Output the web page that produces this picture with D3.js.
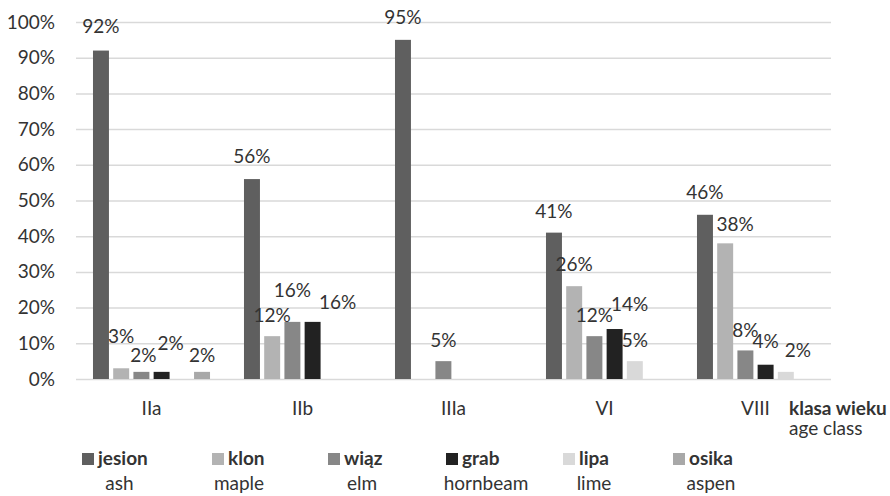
<!DOCTYPE html>
<html>
<head>
<meta charset="utf-8">
<script src="https://cdn.jsdelivr.net/npm/d3@7"></script>
<style>
  html, body { margin: 0; padding: 0; background: #fff; }
  svg text { font-family: Lato, "Open Sans", sans-serif; fill: #333; }
</style>
</head>
<body>
<svg id="chart" width="890" height="496"></svg>
<script>
// Age classes and tree species shares (%)
const ageClasses = ["IIa", "IIb", "IIIa", "VI", "VIII"];
const speciesPl = ["jesion", "klon", "wiąz", "grab", "lipa", "osika"];
const speciesEn = ["ash", "maple", "elm", "hornbeam", "lime", "aspen"];
const jesion = [92, 56, 95, 41, 46];
const klon   = [3, 12, null, 26, 38];
const wiaz   = [2, 16, 5, 12, 8];
const grab   = [2, 16, null, 14, 4];
const lipa   = [null, null, null, 5, 2];
const osika  = [2, null, null, null, null];
const yTicks = [0, 10, 20, 30, 40, 50, 60, 70, 80, 90, 100];

const seriesValues = [jesion, klon, wiaz, grab, lipa, osika];
const colors = ["#5f5f5f", "#b3b3b3", "#878787", "#222222", "#d9d9d9", "#a8a8a8"];

// small label shifts to keep neighbouring value labels apart
const labelShift = {
  "IIa|jesion": [0, -3], "IIa|klon": [0, -10], "IIa|wiąz": [2, 5],
  "IIa|grab": [9, -7], "IIa|osika": [0, 5],
  "IIb|jesion": [0, -1], "IIb|klon": [0, 1], "IIb|wiąz": [0, -10], "IIb|grab": [25, 2],
  "IIIa|jesion": [0, -1], "IIIa|wiąz": [0, 1],
  "VI|wiąz": [0, 1], "VI|grab": [15, -3], "VI|lipa": [0, 1],
  "VIII|jesion": [0, -1], "VIII|klon": [10, 3], "VIII|wiąz": [0, 1.5],
  "VIII|grab": [0, -2], "VIII|lipa": [12, 0]
};

const svg = d3.select("#chart");
const plot = { left: 76, right: 831, top: 22, bottom: 379 };
const fs = 19;

const x0 = d3.scaleBand().domain(ageClasses).range([plot.left, plot.right]);
const x1 = d3.scaleBand().domain(speciesPl).range([0, x0.bandwidth()])
  .paddingInner(0.21).paddingOuter(0.84);
const y = d3.scaleLinear().domain([0, 100]).range([plot.bottom, plot.top]);

// gridlines + y tick labels
const yAxis = svg.append("g")
  .attr("transform", `translate(${plot.left},0)`)
  .call(d3.axisLeft(y).tickValues(yTicks).tickFormat(d => d + "%")
    .tickSize(-(plot.right - plot.left)).tickPadding(21));
yAxis.select(".domain").remove();
yAxis.selectAll(".tick line").attr("stroke", "#d9d9d9").attr("stroke-width", 1.5);
yAxis.selectAll(".tick text").attr("font-size", fs).attr("fill", "#333");

// category labels
const xAxis = svg.append("g")
  .attr("transform", `translate(0,${plot.bottom})`)
  .call(d3.axisBottom(x0).tickSize(0).tickPadding(0));
xAxis.select(".domain").remove();
xAxis.selectAll(".tick text").attr("font-size", fs).attr("fill", "#333")
  .attr("dy", null).attr("y", 36);

// rows of [category, species, value]
const rows = [];
ageClasses.forEach((c, i) => {
  speciesPl.forEach((s, j) => {
    const v = seriesValues[j][i];
    if (v !== null) rows.push({ c, s, j, v });
  });
});

svg.append("g").selectAll("rect").data(rows).join("rect")
  .attr("x", d => x0(d.c) + x1(d.s))
  .attr("width", x1.bandwidth())
  .attr("y", d => y(d.v))
  .attr("height", d => y(0) - y(d.v))
  .attr("fill", d => colors[d.j]);

svg.append("g").selectAll("text").data(rows).join("text")
  .attr("text-anchor", "middle")
  .attr("font-size", fs)
  .attr("x", d => x0(d.c) + x1(d.s) + x1.bandwidth() / 2 + (labelShift[d.c + "|" + d.s] || [0, 0])[0])
  .attr("y", d => y(d.v) - 15 + (labelShift[d.c + "|" + d.s] || [0, 0])[1])
  .text(d => d.v + "%");

// axis title
svg.append("text").attr("x", 789).attr("y", 415).attr("font-size", fs)
  .attr("font-weight", "bold").text("klasa wieku");
svg.append("text").attr("x", 789).attr("y", 435).attr("font-size", fs)
  .text("age class");

// legend: swatch left edges and centres of the English names
const legendSquareX = [82, 212, 328, 446, 563, 673];
const legendSubX = [119.5, 239, 362, 486, 594, 711];
const legend = svg.append("g").selectAll("g").data(speciesPl).join("g");
legend.append("rect")
  .attr("x", (d, i) => legendSquareX[i]).attr("y", 453)
  .attr("width", 12).attr("height", 12)
  .attr("fill", (d, i) => colors[i]);
legend.append("text")
  .attr("x", (d, i) => legendSquareX[i] + 16).attr("y", 465)
  .attr("font-size", fs).attr("font-weight", "bold")
  .text(d => d);
legend.append("text")
  .attr("text-anchor", "middle")
  .attr("x", (d, i) => legendSubX[i]).attr("y", 490)
  .attr("font-size", fs)
  .text((d, i) => speciesEn[i]);
</script>
</body>
</html>
